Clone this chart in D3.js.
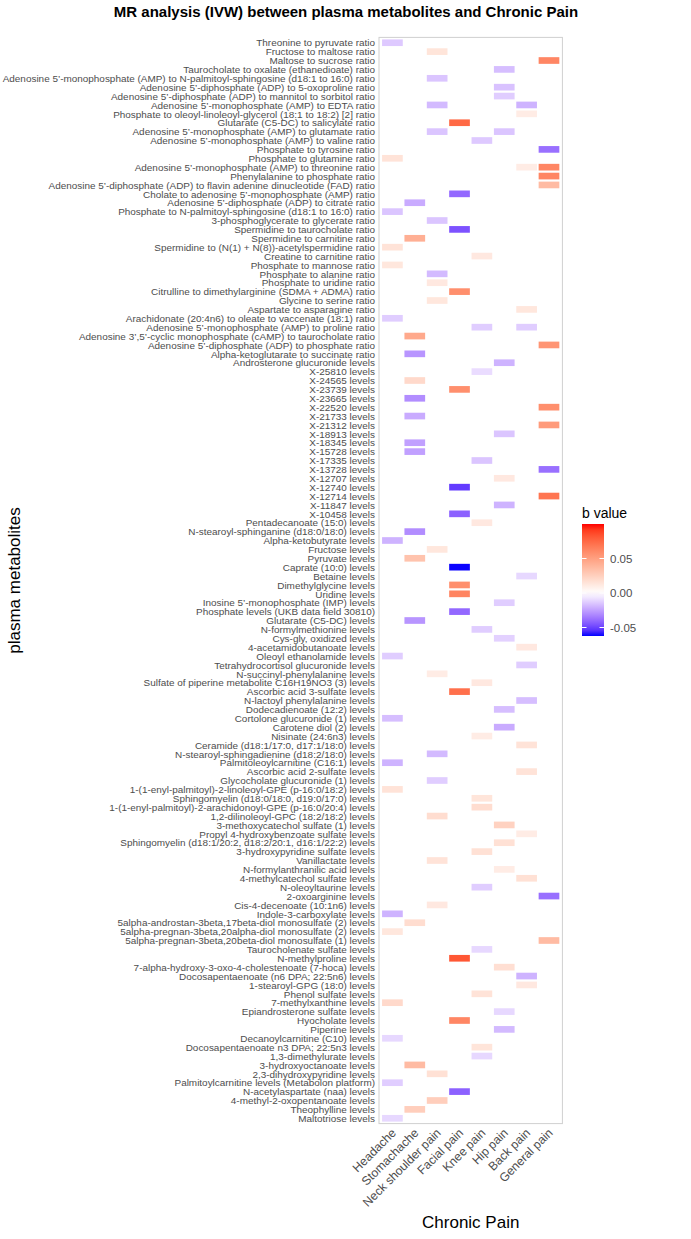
<!DOCTYPE html>
<html><head><meta charset="utf-8">
<script src="https://cdn.jsdelivr.net/npm/d3@7"></script>
<style>body{margin:0;background:#fff}svg{display:block}text{font-family:"Liberation Sans",Arial,Helvetica,sans-serif}</style>
</head><body><svg id="c" width="691" height="1239"></svg>
<script>
const metabolites = [
"Threonine to pyruvate ratio",
"Fructose to maltose ratio",
"Maltose to sucrose ratio",
"Taurocholate to oxalate (ethanedioate) ratio",
"Adenosine 5’-monophosphate (AMP) to N-palmitoyl-sphingosine (d18:1 to 16:0) ratio",
"Adenosine 5’-diphosphate (ADP) to 5-oxoproline ratio",
"Adenosine 5’-diphosphate (ADP) to mannitol to sorbitol ratio",
"Adenosine 5’-monophosphate (AMP) to EDTA ratio",
"Phosphate to oleoyl-linoleoyl-glycerol (18:1 to 18:2) [2] ratio",
"Glutarate (C5-DC) to salicylate ratio",
"Adenosine 5’-monophosphate (AMP) to glutamate ratio",
"Adenosine 5’-monophosphate (AMP) to valine ratio",
"Phosphate to tyrosine ratio",
"Phosphate to glutamine ratio",
"Adenosine 5’-monophosphate (AMP) to threonine ratio",
"Phenylalanine to phosphate ratio",
"Adenosine 5’-diphosphate (ADP) to flavin adenine dinucleotide (FAD) ratio",
"Cholate to adenosine 5’-monophosphate (AMP) ratio",
"Adenosine 5’-diphosphate (ADP) to citrate ratio",
"Phosphate to N-palmitoyl-sphingosine (d18:1 to 16:0) ratio",
"3-phosphoglycerate to glycerate ratio",
"Spermidine to taurocholate ratio",
"Spermidine to carnitine ratio",
"Spermidine to (N(1) + N(8))-acetylspermidine ratio",
"Creatine to carnitine ratio",
"Phosphate to mannose ratio",
"Phosphate to alanine ratio",
"Phosphate to uridine ratio",
"Citrulline to dimethylarginine (SDMA + ADMA) ratio",
"Glycine to serine ratio",
"Aspartate to asparagine ratio",
"Arachidonate (20:4n6) to oleate to vaccenate (18:1) ratio",
"Adenosine 5’-monophosphate (AMP) to proline ratio",
"Adenosine 3’,5’-cyclic monophosphate (cAMP) to taurocholate ratio",
"Adenosine 5’-diphosphate (ADP) to phosphate ratio",
"Alpha-ketoglutarate to succinate ratio",
"Androsterone glucuronide levels",
"X-25810 levels",
"X-24565 levels",
"X-23739 levels",
"X-23665 levels",
"X-22520 levels",
"X-21733 levels",
"X-21312 levels",
"X-18913 levels",
"X-18345 levels",
"X-15728 levels",
"X-17335 levels",
"X-13728 levels",
"X-12707 levels",
"X-12740 levels",
"X-12714 levels",
"X-11847 levels",
"X-10458 levels",
"Pentadecanoate (15:0) levels",
"N-stearoyl-sphinganine (d18:0/18:0) levels",
"Alpha-ketobutyrate levels",
"Fructose levels",
"Pyruvate levels",
"Caprate (10:0) levels",
"Betaine levels",
"Dimethylglycine levels",
"Uridine levels",
"Inosine 5’-monophosphate (IMP) levels",
"Phosphate levels (UKB data field 30810)",
"Glutarate (C5-DC) levels",
"N-formylmethionine levels",
"Cys-gly, oxidized levels",
"4-acetamidobutanoate levels",
"Oleoyl ethanolamide levels",
"Tetrahydrocortisol glucuronide levels",
"N-succinyl-phenylalanine levels",
"Sulfate of piperine metabolite C16H19NO3 (3) levels",
"Ascorbic acid 3-sulfate levels",
"N-lactoyl phenylalanine levels",
"Dodecadienoate (12:2) levels",
"Cortolone glucuronide (1) levels",
"Carotene diol (2) levels",
"Nisinate (24:6n3) levels",
"Ceramide (d18:1/17:0, d17:1/18:0) levels",
"N-stearoyl-sphingadienine (d18:2/18:0) levels",
"Palmitoleoylcarnitine (C16:1) levels",
"Ascorbic acid 2-sulfate levels",
"Glycocholate glucuronide (1) levels",
"1-(1-enyl-palmitoyl)-2-linoleoyl-GPE (p-16:0/18:2) levels",
"Sphingomyelin (d18:0/18:0, d19:0/17:0) levels",
"1-(1-enyl-palmitoyl)-2-arachidonoyl-GPE (p-16:0/20:4) levels",
"1,2-dilinoleoyl-GPC (18:2/18:2) levels",
"3-methoxycatechol sulfate (1) levels",
"Propyl 4-hydroxybenzoate sulfate levels",
"Sphingomyelin (d18:1/20:2, d18:2/20:1, d16:1/22:2) levels",
"3-hydroxypyridine sulfate levels",
"Vanillactate levels",
"N-formylanthranilic acid levels",
"4-methylcatechol sulfate levels",
"N-oleoyltaurine levels",
"2-oxoarginine levels",
"Cis-4-decenoate (10:1n6) levels",
"Indole-3-carboxylate levels",
"5alpha-androstan-3beta,17beta-diol monosulfate (2) levels",
"5alpha-pregnan-3beta,20alpha-diol monosulfate (2) levels",
"5alpha-pregnan-3beta,20beta-diol monosulfate (1) levels",
"Taurocholenate sulfate levels",
"N-methylproline levels",
"7-alpha-hydroxy-3-oxo-4-cholestenoate (7-hoca) levels",
"Docosapentaenoate (n6 DPA; 22:5n6) levels",
"1-stearoyl-GPG (18:0) levels",
"Phenol sulfate levels",
"7-methylxanthine levels",
"Epiandrosterone sulfate levels",
"Hyocholate levels",
"Piperine levels",
"Decanoylcarnitine (C10) levels",
"Docosapentaenoate n3 DPA; 22:5n3 levels",
"1,3-dimethylurate levels",
"3-hydroxyoctanoate levels",
"2,3-dihydroxypyridine levels",
"Palmitoylcarnitine levels (Metabolon platform)",
"N-acetylaspartate (naa) levels",
"4-methyl-2-oxopentanoate levels",
"Theophylline levels",
"Maltotriose levels"
];
const pains = ["Headache","Stomachache","Neck shoulder pain","Facial pain","Knee pain","Hip pain","Back pain","General pain"];

// each cell: metabolite index, pain index, b value
const cellMetabolite = [0,1,2,3,4,5,6,7,7,8,9,10,10,11,12,13,14,14,15,16,17,18,19,20,21,22,23,24,25,26,27,28,29,30,31,32,32,33,34,35,36,37,38,39,40,41,42,43,44,45,46,47,48,49,50,51,52,53,54,55,56,57,58,59,60,61,62,63,64,65,66,67,68,69,70,71,72,73,74,75,76,77,78,79,80,81,82,83,84,85,86,87,88,89,90,91,92,93,94,95,96,97,98,99,100,101,102,103,104,105,106,107,108,109,110,111,112,113,114,115,116,117,118,119,120,121];
const cellPain =       [0,2,7,5,2,5,5,2,6,6,3,2, 5, 4, 7, 0, 6, 7, 7, 7, 3, 1, 0, 2, 3, 1, 0, 4, 0, 2, 2, 3, 2, 6, 0, 4, 6, 1, 7, 1, 5, 4, 1, 3, 1, 7, 1, 7, 5, 1, 1, 4, 7, 5, 3, 7, 5, 3, 4, 1, 0, 2, 1, 3, 6, 3, 3, 5, 3, 1, 4, 5, 6, 0, 6, 2, 4, 3, 6, 5, 0, 5, 4, 6, 2, 0, 6, 2, 0, 4, 4, 2, 5, 6, 5, 4, 2, 5, 6, 4, 7, 2, 0, 1, 0, 7, 4, 3, 5, 6, 6, 4, 0, 5, 3, 5, 0, 4, 4, 1, 2, 0, 3, 2, 1, 0];
const cellB = [
-0.014, 0.014, 0.062,-0.017,-0.015,-0.016,-0.013,-0.018,-0.020, 0.010, 0.075,-0.015,-0.015,-0.014,-0.038, 0.015, 0.010, 0.062, 0.062, 0.036,
-0.040,-0.022,-0.015,-0.015,-0.046, 0.042, 0.015, 0.012, 0.013,-0.018, 0.012, 0.058, 0.013, 0.013,-0.013,-0.013,-0.013, 0.045, 0.055,-0.028,
-0.020,-0.009, 0.020, 0.058,-0.030, 0.058,-0.022, 0.052,-0.015,-0.025,-0.025,-0.015,-0.038, 0.012,-0.052, 0.070,-0.020,-0.042, 0.012,-0.030,
-0.020, 0.013, 0.032,-0.062,-0.010, 0.058, 0.063,-0.013,-0.040,-0.028,-0.013,-0.012, 0.012,-0.013,-0.013, 0.010, 0.012, 0.072,-0.017,-0.017,
-0.017,-0.022, 0.010, 0.015,-0.018,-0.020, 0.015,-0.013, 0.015, 0.014, 0.018, 0.018, 0.024, 0.010, 0.016, 0.016, 0.015, 0.010, 0.016,-0.013,
-0.038, 0.012,-0.020, 0.018, 0.013, 0.036,-0.010, 0.082, 0.017,-0.020, 0.012, 0.015, 0.020,-0.010, 0.062,-0.018,-0.010, 0.014,-0.010, 0.036,
 0.016,-0.013,-0.042, 0.026, 0.026,-0.010
];
const legendTicks = [0.05, 0.00, -0.05];
const legendLabels = ["0.05", "0.00", "-0.05"];
const bMin = -0.0623, bMax = 0.1;

const svg = d3.select("#c");
const panel = {l: 379, r: 562.4, t: 37.4, b: 1123.6};

const x = d3.scalePoint().domain(pains).range([panel.l, panel.r]).padding(0.6);
const y = d3.scalePoint().domain(metabolites).range([panel.t, panel.b]).padding(0.6);
const color = d3.scaleLinear().domain([bMin, 0, bMax]).range(["#0000ff", "#ffffff", "#ff0000"]).interpolate(d3.interpolateLab).clamp(true);

// title
svg.append("text").attr("x", 346).attr("y", 17).attr("text-anchor", "middle")
  .attr("font-size", 15).attr("font-weight", "bold").text("MR analysis (IVW) between plasma metabolites and Chronic Pain");

// tiles
const tw = x.step() * 0.925, th = y.step() * 0.75;
const cells = cellB.map((b, i) => ({m: metabolites[cellMetabolite[i]], p: pains[cellPain[i]], b}));
svg.append("g").selectAll("rect").data(cells).join("rect")
  .attr("x", d => x(d.p) - tw / 2).attr("y", d => y(d.m) - th / 2)
  .attr("width", tw).attr("height", th).attr("fill", d => color(d.b));

// panel border
svg.append("rect").attr("x", panel.l).attr("y", panel.t).attr("width", panel.r - panel.l).attr("height", panel.b - panel.t)
  .attr("fill", "none").attr("stroke", "#d0d0d0").attr("stroke-width", 1);

// y axis labels
const yAxis = d3.axisLeft(y).tickSize(0).tickPadding(4);
const gy = svg.append("g").attr("transform", `translate(${panel.l},0)`).call(yAxis);
gy.select(".domain").remove();
gy.selectAll("text").attr("font-size", 9.95).attr("fill", "#4d4d4d").attr("font-family", "Liberation Sans, Arial, sans-serif");

// x axis labels
const xAxis = d3.axisBottom(x).tickSize(0).tickPadding(0);
const gx = svg.append("g").attr("transform", `translate(0,${panel.b})`).call(xAxis);
gx.select(".domain").remove();
gx.selectAll("text").attr("font-size", 12.2).attr("fill", "#4d4d4d").attr("font-family", "Liberation Sans, Arial, sans-serif")
  .attr("text-anchor", "end").attr("dy", null).attr("y", 0)
  .attr("transform", "translate(4,10) rotate(-45)");

// axis titles
svg.append("text").attr("x", (panel.l + panel.r) / 2).attr("y", 1228).attr("text-anchor", "middle")
  .attr("font-size", 17).text("Chronic Pain");
svg.append("text").attr("transform", `translate(20,${(panel.t + panel.b) / 2}) rotate(-90)`).attr("text-anchor", "middle")
  .attr("font-size", 17).text("plasma metabolites");

// legend
const lg = svg.append("g");
lg.append("text").attr("x", 582).attr("y", 518).attr("font-size", 14).text("b value");
const ly = d3.scaleLinear().domain([bMin, bMax]).range([636, 524]);
const defs = svg.append("defs");
const grad = defs.append("linearGradient").attr("id", "lgrad").attr("x1", 0).attr("y1", 1).attr("x2", 0).attr("y2", 0);
d3.range(0, 1.0001, 0.05).forEach(t => {
  grad.append("stop").attr("offset", t).attr("stop-color", color(bMin + t * (bMax - bMin)));
});
lg.append("rect").attr("x", 582).attr("y", ly(bMax)).attr("width", 22).attr("height", ly(bMin) - ly(bMax)).attr("fill", "url(#lgrad)");
legendTicks.forEach((v, i) => {
  lg.append("line").attr("x1", 582).attr("x2", 586.5).attr("y1", ly(v)).attr("y2", ly(v)).attr("stroke", "#fff");
  lg.append("line").attr("x1", 599.5).attr("x2", 604).attr("y1", ly(v)).attr("y2", ly(v)).attr("stroke", "#fff");
  lg.append("text").attr("x", 610).attr("y", ly(v)).attr("dy", "0.35em").attr("font-size", 11.5).attr("fill", "#4d4d4d").text(legendLabels[i]);
});
</script></body></html>
